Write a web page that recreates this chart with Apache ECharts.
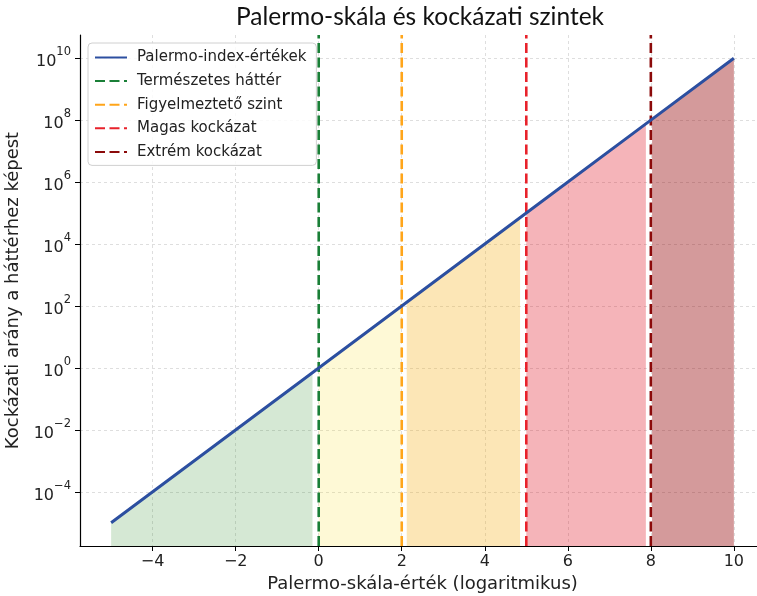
<!DOCTYPE html>
<html>
<head>
<meta charset="utf-8">
<script src="https://cdn.jsdelivr.net/npm/echarts@6/dist/echarts.min.js"></script>
<style>html,body{margin:0;padding:0;background:#fff}#c{width:757px;height:596px}</style>
</head>
<body>
<div id="c"></div>
<script>
// ---- data ----
const lineName = 'Palermo-index-értékek';
const palermoX = [-5, 0, 2, 5, 8, 10];
const palermoRatio = [1e-5, 1, 1e2, 1e5, 1e8, 1e10];

const thresholdNames = ['Természetes háttér', 'Figyelmeztető szint', 'Magas kockázat', 'Extrém kockázat'];
const thresholdX = [0, 2, 5, 8];

const zoneStartX = [-5, 0, 2.12, 5, 8.03];
const zoneEndX = [-0.15, 1.97, 4.85, 7.88, 10];
const zoneStartRatio = [1e-5, 1, 131.8, 1e5, 1.07e8];
const zoneEndRatio = [0.708, 93.3, 7.08e4, 7.59e7, 1e10];

const xTicks = [-4, -2, 0, 2, 4, 6, 8, 10];
const yTickExp = [-4, -2, 0, 2, 4, 6, 8, 10];

// ---- styling ----
const thresholdColors = ['#1a7f37', '#ffa51a', '#e8222b', '#8b0a0a'];
const zoneColors = ['rgba(45,140,40,0.2)', 'rgba(250,225,50,0.2)', 'rgba(245,172,12,0.3)', 'rgba(222,8,22,0.3)', 'rgba(147,3,5,0.4)'];
const X_MIN = -5.75, X_MAX = 10.75, Y_MIN = -5.75, Y_MAX = 10.75;
const FONT = 'DejaVu Sans';
const minus = v => (v < 0 ? '\u2212' + Math.abs(v) : String(v));

const series = [];
zoneStartX.forEach((sx, i) => {
  series.push({
    name: 'zone' + i,
    type: 'line',
    data: [[sx, Math.log10(zoneStartRatio[i])], [zoneEndX[i], Math.log10(zoneEndRatio[i])]],
    symbol: 'none',
    lineStyle: { width: 0 },
    areaStyle: { color: zoneColors[i], origin: 'start', opacity: 1 },
    z: 1, silent: true
  });
});
thresholdX.forEach((tx, i) => {
  series.push({
    name: thresholdNames[i],
    type: 'line',
    data: [[tx, Y_MIN], [tx, Y_MAX]],
    symbol: 'none',
    lineStyle: { color: thresholdColors[i], width: 2.6, type: [10, 4.5] },
    itemStyle: { color: thresholdColors[i] },
    z: 3
  });
});
series.unshift({
  name: lineName,
  type: 'line',
  data: palermoX.map((x, i) => [x, Math.log10(palermoRatio[i])]),
  symbol: 'none',
  lineStyle: { color: '#2c4fa0', width: 3 },
  itemStyle: { color: '#2c4fa0' },
  z: 4
});

const gridLine = { show: true, lineStyle: { color: '#d6d6d6', width: 0.8, type: [3, 3] } };

const chart = echarts.init(document.getElementById('c'), null, { renderer: 'canvas' });
chart.setOption({
  animation: false,
  backgroundColor: '#ffffff',
  title: {
    text: 'Palermo-skála és kockázati szintek',
    left: 415, top: 0, textAlign: 'center',
    textStyle: { fontFamily: 'Lato', fontSize: 24.5, fontWeight: 'normal', color: '#111' }
  },
  legend: {
    orient: 'vertical', left: 88, top: 43,
    data: [lineName].concat(thresholdNames),
    itemWidth: 32, itemHeight: 14, itemGap: 8.6,
    padding: [7, 10, 6, 6],
    backgroundColor: 'rgba(255,255,255,0.85)',
    borderColor: '#d0d0d0', borderWidth: 1, borderRadius: 4,
    itemStyle: { opacity: 0 },
    textStyle: { fontFamily: FONT, fontSize: 15, color: '#222', padding: [0, 0, 0, 5] }
  },
  grid: { left: 80, top: 35, width: 685, height: 511, outerBoundsMode: 'none', containLabel: false },
  xAxis: {
    type: 'value', min: X_MIN, max: X_MAX,
    name: 'Palermo-skála-érték (logaritmikus)', nameLocation: 'middle', nameGap: 25,
    nameTextStyle: { fontFamily: FONT, fontSize: 18, color: '#222' },
    axisLine: { show: true, onZero: false, lineStyle: { color: '#000', width: 1.2 } },
    axisTick: { show: true, length: 5, customValues: xTicks, lineStyle: { color: '#000', width: 1 } },
    axisLabel: { customValues: xTicks, formatter: v => minus(v), fontFamily: FONT, fontSize: 16, color: '#222', margin: 8 },
    splitLine: gridLine
  },
  yAxis: {
    type: 'value', min: Y_MIN, max: Y_MAX,
    name: 'Kockázati arány a háttérhez képest', nameLocation: 'middle', nameGap: 57, nameRotate: 90,
    nameTextStyle: { fontFamily: FONT, fontSize: 18, color: '#222' },
    axisLine: { show: true, onZero: false, lineStyle: { color: '#000', width: 1.2 } },
    axisTick: { show: true, length: 5, customValues: yTickExp, lineStyle: { color: '#000', width: 1 } },
    axisLabel: {
      customValues: yTickExp,
      formatter: v => '{b|10}{s|' + minus(v) + '}',
      margin: 9,
      rich: {
        b: { fontFamily: FONT, fontSize: 16, color: '#222', verticalAlign: 'bottom', lineHeight: 24 },
        s: { fontFamily: FONT, fontSize: 11.5, color: '#222', verticalAlign: 'top', lineHeight: 24 }
      }
    },
    splitLine: gridLine
  },
  series: series
});
</script>
</body>
</html>
